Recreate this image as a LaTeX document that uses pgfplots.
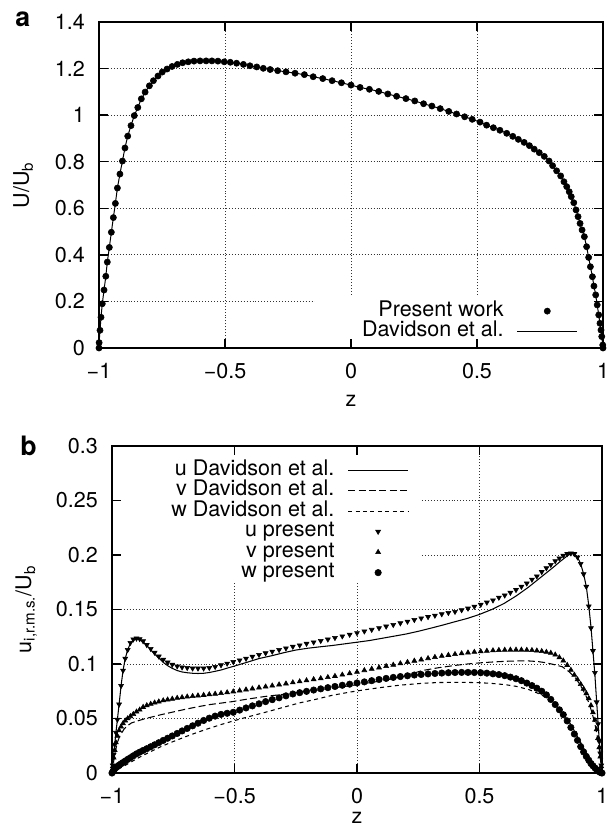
\documentclass[border=0pt]{standalone}
\usepackage{fontspec}
\setmainfont{TeX Gyre Heros}
\usepackage{pgfplots}
\usepackage{pgfplotstable}
\pgfplotsset{compat=1.18}

\pgfplotstableread{
z U
-1.000 0.000
-0.9995 0.023
-0.996 0.076
-0.992 0.132
-0.987 0.190
-0.980 0.249
-0.973 0.308
-0.967 0.369
-0.959 0.432
-0.951 0.497
-0.943 0.560
-0.935 0.621
-0.927 0.687
-0.917 0.747
-0.907 0.803
-0.897 0.859
-0.886 0.910
-0.873 0.955
-0.860 0.998
-0.846 1.033
-0.832 1.070
-0.817 1.099
-0.800 1.126
-0.784 1.148
-0.766 1.168
-0.749 1.185
-0.730 1.198
-0.710 1.209
-0.689 1.218
-0.668 1.225
-0.646 1.229
-0.623 1.232
-0.599 1.233
-0.575 1.233
-0.552 1.233
-0.528 1.232
-0.503 1.229
-0.479 1.227
-0.454 1.223
-0.427 1.218
-0.401 1.212
-0.374 1.207
-0.348 1.201
-0.321 1.196
-0.291 1.191
-0.258 1.186
-0.222 1.180
-0.185 1.174
-0.150 1.165
-0.112 1.157
-0.075 1.148
-0.038 1.139
0.000 1.129
0.036 1.119
0.073 1.111
0.110 1.102
0.146 1.091
0.181 1.081
0.218 1.071
0.253 1.061
0.288 1.049
0.321 1.039
0.354 1.028
0.388 1.016
0.419 1.005
0.451 0.993
0.481 0.982
0.512 0.970
0.538 0.957
0.565 0.946
0.591 0.935
0.618 0.922
0.642 0.909
0.664 0.896
0.687 0.883
0.708 0.869
0.727 0.854
0.747 0.839
0.767 0.823
0.786 0.803
0.800 0.783
0.816 0.761
0.832 0.739
0.845 0.714
0.856 0.693
0.866 0.671
0.874 0.650
0.884 0.624
0.893 0.593
0.901 0.564
0.909 0.535
0.917 0.507
0.926 0.478
0.935 0.435
0.943 0.389
0.950 0.349
0.958 0.306
0.964 0.266
0.971 0.228
0.977 0.185
0.983 0.142
0.988 0.106
0.992 0.077
0.995 0.049
0.999 0.013
1.000 0.000
}\topdata

\pgfplotstableread{
z u v w
-1.000 0 0 0
-0.997 0.007 0.006 0.0012
-0.993 0.017 0.014 0.0027
-0.989 0.026 0.021 0.0038
-0.984 0.037 0.028 0.0049
-0.978 0.049 0.034 0.006
-0.971 0.063 0.039 0.0072
-0.963 0.080 0.0425 0.0085
-0.955 0.094 0.0455 0.0096
-0.946 0.105 0.048 0.011
-0.936 0.113 0.050 0.0125
-0.925 0.1195 0.052 0.014
-0.913 0.1227 0.054 0.0158
-0.900 0.1235 0.0562 0.0176
-0.887 0.123 0.058 0.0191
-0.873 0.121 0.0605 0.0207
-0.858 0.1175 0.062 0.0223
-0.842 0.114 0.0633 0.0241
-0.826 0.1105 0.0645 0.0259
-0.809 0.107 0.0655 0.0278
-0.791 0.104 0.0665 0.0299
-0.773 0.1015 0.0673 0.0319
-0.754 0.0995 0.068 0.034
-0.734 0.098 0.0688 0.0363
-0.714 0.097 0.0694 0.0386
-0.693 0.0965 0.070 0.0409
-0.671 0.096 0.0705 0.0433
-0.649 0.096 0.071 0.0457
-0.626 0.096 0.0715 0.0482
-0.603 0.0965 0.0721 0.0503
-0.579 0.0975 0.0726 0.0522
-0.555 0.099 0.0732 0.0538
-0.530 0.1005 0.0739 0.0548
-0.505 0.102 0.0747 0.0557
-0.479 0.1035 0.0756 0.0577
-0.453 0.105 0.0765 0.0597
-0.427 0.1068 0.0774 0.0616
-0.400 0.1085 0.0783 0.0635
-0.373 0.110 0.0792 0.0655
-0.346 0.1115 0.0801 0.0673
-0.318 0.113 0.0811 0.069
-0.290 0.1145 0.082 0.0708
-0.262 0.116 0.083 0.0725
-0.234 0.1172 0.0839 0.0737
-0.206 0.1187 0.0849 0.0749
-0.177 0.120 0.0859 0.0761
-0.148 0.1213 0.0868 0.0772
-0.119 0.1226 0.0878 0.0783
-0.090 0.124 0.0889 0.0794
-0.060 0.1255 0.0901 0.0805
-0.030 0.127 0.0914 0.0815
0.000 0.1285 0.0927 0.0826
0.030 0.130 0.0942 0.0836
0.060 0.1315 0.0955 0.0847
0.090 0.133 0.0967 0.0858
0.119 0.1345 0.098 0.0868
0.148 0.136 0.0992 0.0877
0.177 0.1375 0.1005 0.0885
0.206 0.139 0.1017 0.0892
0.234 0.1405 0.1029 0.0899
0.262 0.142 0.104 0.0904
0.290 0.1432 0.1052 0.0909
0.318 0.1445 0.1063 0.0913
0.346 0.1458 0.1073 0.0917
0.373 0.147 0.1082 0.092
0.400 0.148 0.109 0.0922
0.427 0.1495 0.1097 0.0923
0.453 0.151 0.1104 0.0923
0.479 0.1527 0.111 0.0922
0.505 0.1545 0.1115 0.092
0.530 0.1565 0.112 0.0916
0.555 0.1585 0.1124 0.091
0.579 0.161 0.1127 0.0903
0.603 0.163 0.1129 0.0893
0.626 0.1655 0.113 0.088
0.649 0.168 0.113 0.0865
0.671 0.171 0.113 0.0847
0.693 0.174 0.1128 0.0825
0.714 0.1775 0.1126 0.0802
0.734 0.1805 0.1122 0.0778
0.754 0.1845 0.1117 0.075
0.773 0.188 0.111 0.0717
0.791 0.191 0.1101 0.0675
0.809 0.1945 0.1085 0.0628
0.826 0.197 0.106 0.058
0.842 0.1995 0.103 0.0535
0.858 0.201 0.099 0.0478
0.873 0.2016 0.0945 0.0418
0.887 0.201 0.090 0.0358
0.900 0.198 0.0858 0.030
0.913 0.192 0.0815 0.0242
0.925 0.1825 0.0772 0.0193
0.936 0.171 0.073 0.0152
0.946 0.153 0.0685 0.0117
0.955 0.133 0.062 0.0087
0.963 0.112 0.0555 0.0066
0.971 0.092 0.0486 0.0047
0.978 0.065 0.040 0.0031
0.984 0.045 0.032 0.002
0.989 0.029 0.0235 0.0012
0.993 0.018 0.015 0.0007
0.997 0.007 0.006 0.0003
1.000 0 0 0
}\botdata

\pgfplotsset{
  myaxis/.style={
    scale only axis, anchor=south west,
    xmin=-1, xmax=1,
    tick align=inside,
    major tick length=0.225cm,
    grid=major,
    major grid style={line width=0.6pt, dash pattern=on 0.7pt off 1.4pt, black!80},
    axis line style={line width=1.3pt},
    major tick style={line width=1pt, black},
    xtick={-1,-0.5,0,0.5,1},
    xticklabels={−1,−0.5,0,0.5,1},
    xticklabel style={yshift=-0.19cm},
    yticklabel style={xshift=-0.17cm},
    legend cell align=right,
    legend plot pos=right,
    legend style={draw=none, fill=none, anchor=north east, inner sep=0pt,
      column sep=0.325cm, row sep=0pt,
      nodes={inner sep=0.1pt, text height=0.7em, text depth=0.24em}},
  }
}

\begin{document}
\fontsize{15.3}{18}\selectfont
\begin{tikzpicture}
\path[use as bounding box] (0,0) rectangle (15.175cm,-20.7cm);

\node[anchor=base west, font=\fontsize{19}{22}\selectfont\bfseries] at (0.2cm,-0.675cm) {a};
\node[anchor=base west, font=\fontsize{19}{22}\selectfont\bfseries] at (0.325cm,-11.375cm) {b};

\begin{axis}[myaxis,
  at={(2.475cm,-8.7cm)}, width=12.6cm, height=8.15cm,
  ymin=0, ymax=1.4,
  ytick={0,0.2,0.4,0.6,0.8,1,1.2,1.4},
  yticklabels={0,0.2,0.4,0.6,0.8,1,1.2,1.4},
  xlabel={z}, ylabel={U/U\textsubscript{b}},
  xlabel style={at={(axis description cs:0.5,-0.1626)}, anchor=center},
  ylabel style={at={(axis description cs:-0.1389,0.5)}, anchor=base},
  legend style={at={(0.9505,0.1454)}},
  legend image code/.code={\draw[mark repeat=2,mark phase=2,#1] plot coordinates {(0cm,0cm) (0.75cm,0cm) (1.5cm,0cm)};},
]
\fill[white] (axis cs:-0.143,0.04) rectangle (axis cs:0.96,0.219);
\addplot[only marks, mark=*, mark size=2.2pt, black] table[x=z,y=U] {\topdata};
\addlegendentry{Present work}
\addplot[black, line width=0.7pt, mark=none] table[x=z,y=U] {\topdata};
\addlegendentry{Davidson et al.}
\end{axis}

\begin{axis}[myaxis,
  at={(2.8cm,-19.325cm)}, width=12.25cm, height=8.175cm,
  ymin=0, ymax=0.3,
  ytick={0,0.05,0.1,0.15,0.2,0.25,0.3},
  yticklabels={0,0.05,0.1,0.15,0.2,0.25,0.3},
  xlabel={z}, ylabel={u\textsubscript{i,r.m.s.}/U\textsubscript{b}},
  xlabel style={at={(axis description cs:0.5,-0.137)}, anchor=center},
  ylabel style={at={(axis description cs:-0.1653,0.5)}, anchor=base},
  legend style={at={(0.606,0.9584)}},
  legend image code/.code={\draw[mark repeat=2,mark phase=2,#1] plot coordinates {(0cm,0cm) (0.75cm,0cm) (1.5cm,0cm)};},
]
\fill[white] (axis cs:-0.962,0.174) rectangle (axis cs:0.261,0.2915);
\addplot[black, line width=0.75pt, mark=none] coordinates {
(-1,0) (-0.995,0.012) (-0.99,0.024) (-0.985,0.035) (-0.978,0.049) (-0.971,0.063)
(-0.963,0.080) (-0.955,0.094) (-0.946,0.105) (-0.936,0.113) (-0.925,0.119)
(-0.913,0.122) (-0.9,0.123) (-0.887,0.1225) (-0.873,0.1205) (-0.858,0.117)
(-0.842,0.113) (-0.826,0.109) (-0.809,0.1055) (-0.791,0.1015) (-0.773,0.0985)
(-0.754,0.096) (-0.734,0.094) (-0.714,0.0927) (-0.693,0.092) (-0.671,0.0915)
(-0.649,0.0913) (-0.626,0.0915) (-0.603,0.0922) (-0.579,0.0933) (-0.555,0.0945)
(-0.53,0.0962) (-0.505,0.0978) (-0.45,0.1015) (-0.4,0.105) (-0.35,0.1075)
(-0.3,0.1103) (-0.25,0.1128) (-0.2,0.1145) (-0.15,0.1158) (-0.1,0.117)
(-0.05,0.1185) (0,0.120) (0.05,0.1215) (0.1,0.1235) (0.15,0.1255) (0.2,0.1275)
(0.25,0.130) (0.3,0.1328) (0.35,0.1357) (0.4,0.1388) (0.45,0.1418) (0.5,0.1455)
(0.55,0.150) (0.6,0.1555) (0.65,0.1625) (0.7,0.1705) (0.75,0.1795) (0.8,0.1885)
(0.83,0.1942) (0.86,0.1995) (0.875,0.2015) (0.887,0.201) (0.9,0.198) (0.913,0.192)
(0.925,0.1825) (0.936,0.171) (0.946,0.1535) (0.955,0.134) (0.963,0.112)
(0.971,0.090) (0.978,0.066) (0.984,0.046) (0.989,0.029) (0.993,0.018)
(0.997,0.007) (1,0)};
\addlegendentry{u Davidson et al.}
\addplot[black, line width=0.75pt, mark=none, dash pattern=on 5pt off 2.4pt] coordinates {
(-1,0) (-0.995,0.008) (-0.99,0.015) (-0.985,0.021) (-0.978,0.028) (-0.97,0.033)
(-0.96,0.037) (-0.95,0.0405) (-0.935,0.0437) (-0.92,0.046) (-0.9,0.0475)
(-0.87,0.0495) (-0.85,0.0507) (-0.8,0.0535) (-0.76,0.0555) (-0.7,0.0585)
(-0.645,0.061) (-0.6,0.0628) (-0.509,0.0655) (-0.45,0.0677) (-0.373,0.0703)
(-0.3,0.0722) (-0.237,0.074) (-0.17,0.0758) (-0.101,0.078) (-0.03,0.080)
(0.035,0.0823) (0.1,0.0845) (0.15,0.0867) (0.2,0.0895) (0.267,0.094) (0.33,0.0965)
(0.403,0.0988) (0.45,0.1) (0.498,0.101) (0.55,0.1018) (0.607,0.1025) (0.65,0.1028)
(0.702,0.1028) (0.74,0.1022) (0.77,0.1012) (0.8,0.0997) (0.838,0.0975)
(0.865,0.093) (0.893,0.0869) (0.913,0.080) (0.933,0.0716) (0.947,0.064)
(0.960,0.0548) (0.971,0.045) (0.981,0.0333) (0.988,0.023) (0.994,0.012) (1,0)};
\addlegendentry{v Davidson et al.}
\addplot[black, line width=0.75pt, mark=none, dash pattern=on 2.8pt off 2.5pt] coordinates {
(-1,0) (-0.99,0.0012) (-0.975,0.0035) (-0.95,0.0065) (-0.9,0.013) (-0.85,0.0188)
(-0.8,0.0242) (-0.76,0.028) (-0.7,0.0333) (-0.645,0.0378) (-0.6,0.0412)
(-0.55,0.0448) (-0.509,0.0475) (-0.45,0.0512) (-0.373,0.0558) (-0.3,0.0603)
(-0.237,0.0642) (-0.17,0.0675) (-0.101,0.0713) (-0.03,0.0742) (0.035,0.0765)
(0.1,0.0785) (0.171,0.0805) (0.267,0.0823) (0.33,0.083) (0.403,0.0832)
(0.45,0.0831) (0.498,0.0829) (0.55,0.0822) (0.607,0.081) (0.65,0.0795)
(0.702,0.0765) (0.74,0.073) (0.77,0.0695) (0.8,0.064) (0.838,0.0555)
(0.87,0.0455) (0.9,0.0335) (0.933,0.0195) (0.96,0.0095) (0.974,0.005)
(0.99,0.0012) (1,0)};
\addlegendentry{w Davidson et al.}
\addplot[only marks, black, mark=triangle*, mark size=2pt, mark options={rotate=180}] table[x=z,y=u] {\botdata};
\addlegendentry{u present}
\addplot[only marks, black, mark=triangle*, mark size=2pt] table[x=z,y=v] {\botdata};
\addlegendentry{v present}
\addplot[only marks, black, mark=*, mark size=2.3pt] table[x=z,y=w] {\botdata};
\addlegendentry{w present}
\end{axis}
\end{tikzpicture}
\end{document}
